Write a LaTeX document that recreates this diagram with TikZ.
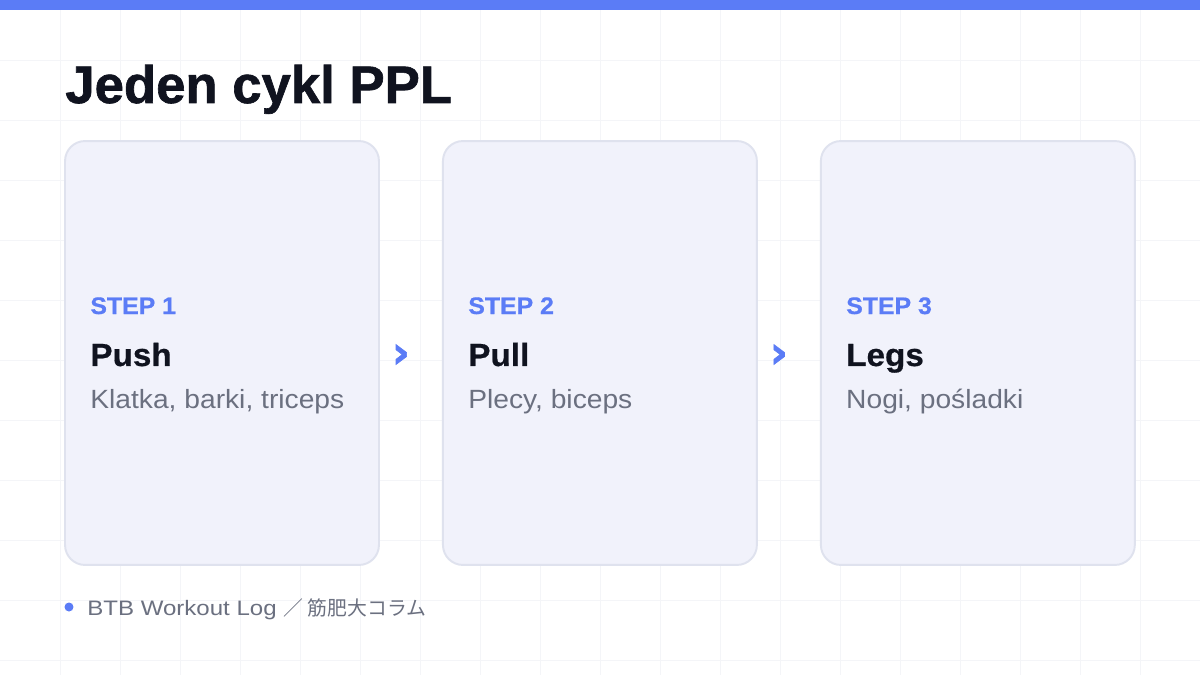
\documentclass[tikz,border=0pt]{standalone}
\usepackage{fontspec}
\setmainfont{Liberation Sans}[FakeStretch=1.07]
\newfontfamily\heavy{Liberation Sans Bold}[FakeBold=1.2,FakeStretch=1.0]
\newfontfamily\semiheavy{Liberation Sans Bold}[FakeBold=0.6,FakeStretch=1.04]
\newfontfamily\footlatin{Liberation Sans}[FakeStretch=1.15]
\newfontfamily\chevfont{DejaVu Sans Bold}[FakeBold=1.5]
\newfontfamily\cjk{Noto Sans CJK JP}
\usetikzlibrary{positioning}
\definecolor{accent}{HTML}{5B7CF6}
\definecolor{ink}{HTML}{10131F}
\definecolor{muted}{HTML}{6B7080}
\definecolor{cardfill}{HTML}{F1F2FB}
\definecolor{cardline}{HTML}{DFE2EE}
\definecolor{gridcol}{HTML}{F4F5F8}

\begin{document}
\begin{tikzpicture}[x=0.02cm,y=-0.02cm,node distance=1.28cm,
    card/.style={draw=cardline,fill=cardfill,line width=1.1pt,rounded corners=0.4cm,
        minimum width=6.28cm,minimum height=8.48cm,inner sep=0pt,outer sep=0pt},
    steplbl/.style={anchor=base west,inner sep=0pt,text=accent,
        font=\fontsize{13.6}{16}\selectfont\semiheavy},
    steptitle/.style={anchor=base west,inner sep=0pt,text=ink,
        font=\fontsize{18.2}{22}\selectfont\semiheavy},
    stepnote/.style={anchor=base west,inner sep=0pt,text=muted,
        font=\fontsize{15}{18}\selectfont},
    chev/.style={inner sep=0pt,text=accent,font=\fontsize{25}{28}\selectfont\chevfont}]
    % background, grid, top bar
    \fill[white] (0,0) rectangle (1200,675);
    \useasboundingbox (0,0) rectangle (1200,675);
    \foreach \gx in {60,120,...,1140}
        \draw[gridcol,line width=0.5pt] (\gx,0) -- (\gx,675);
    \foreach \gy in {60,120,...,660}
        \draw[gridcol,line width=0.5pt] (0,\gy) -- (1200,\gy);
    \fill[accent] (0,0) rectangle (1200,10);
    %
    \node[anchor=base west,inner sep=0pt,text=ink,font=\fontsize{30}{36}\selectfont\heavy]
        (title) at (65,103) {Jeden cykl PPL};
    %
    \node[card]                  (push) at (222,353) {};
    \node[card,right=of push]    (pull) {};
    \node[card,right=of pull]    (legs) {};
    %
    \node[steplbl]   (s1) at ([xshift=0.5cm,yshift=0.78cm]push.west)  {STEP 1};
    \node[steptitle] (t1) at ([xshift=0.5cm,yshift=-0.26cm]push.west) {Push};
    \node[stepnote]  (n1) at ([xshift=0.5cm,yshift=-1.12cm]push.west) {Klatka, barki, triceps};
    \node[steplbl]   (s2) at ([xshift=0.5cm,yshift=0.78cm]pull.west)  {STEP 2};
    \node[steptitle] (t2) at ([xshift=0.5cm,yshift=-0.26cm]pull.west) {Pull};
    \node[stepnote]  (n2) at ([xshift=0.5cm,yshift=-1.12cm]pull.west) {Plecy, biceps};
    \node[steplbl]   (s3) at ([xshift=0.5cm,yshift=0.78cm]legs.west)  {STEP 3};
    \node[steptitle] (t3) at ([xshift=0.5cm,yshift=-0.26cm]legs.west) {Legs};
    \node[stepnote]  (n3) at ([xshift=0.5cm,yshift=-1.12cm]legs.west) {Nogi, pośladki};
    %
    \node[chev] (c1) at ([xshift=0.44cm,yshift=-0.06cm]push.east) {›};
    \node[chev] (c2) at ([xshift=0.44cm,yshift=-0.06cm]pull.east) {›};
    %
    \node[circle,fill=accent,minimum size=0.18cm,inner sep=0pt] (dot) at (69,607) {};
    \node[anchor=base west,inner sep=0pt,text=muted,font=\fontsize{11.9}{14}\selectfont\footlatin]
        (foot) at (87,615) {BTB Workout Log {\cjk\fontsize{11.3}{14}\selectfont ／ 筋肥大コラム}};
\end{tikzpicture}
\end{document}
